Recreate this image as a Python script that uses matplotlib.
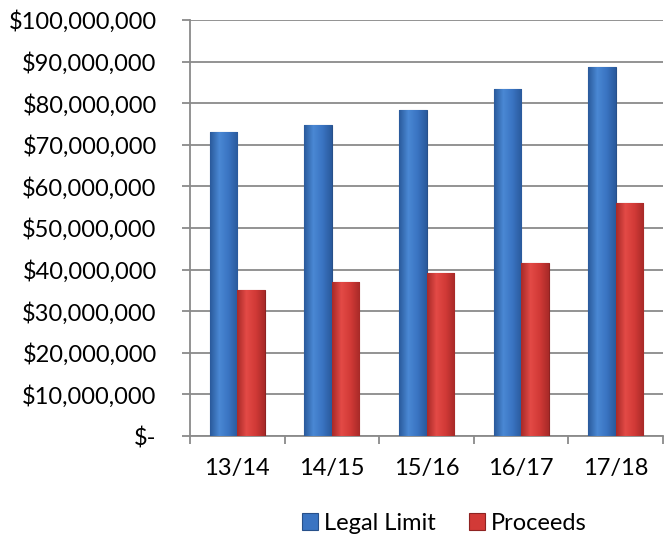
import numpy as np
import matplotlib.pyplot as plt
from matplotlib.ticker import FuncFormatter
from matplotlib.colors import LinearSegmentedColormap

plt.rcParams['font.family'] = ['Lato', 'DejaVu Sans']

# Data
seasons = ['13/14', '14/15', '15/16', '16/17', '17/18']
legal_limit = [73_100_000, 74_800_000, 78_400_000, 83_400_000, 88_700_000]
proceeds = [35_100_000, 37_000_000, 39_300_000, 41_500_000, 56_100_000]

fig = plt.figure(figsize=(6.66, 5.37), dpi=100)
ax = fig.add_axes([0.2853, 0.188, 0.7102, 0.7748])

x = np.arange(len(seasons))
w = 0.29
blue_bars = ax.bar(x - w / 2, legal_limit, w, color='#3a74c2', edgecolor='#27508a',
                   linewidth=0.8, label='Legal Limit', zorder=3)
red_bars = ax.bar(x + w / 2, proceeds, w, color='#d23a37', edgecolor='#8e2322',
                  linewidth=0.8, label='Proceeds', zorder=3)

# cylinder-like shading on each bar
blue_cm = LinearSegmentedColormap.from_list('b', ['#2a5a9c', '#4a88d4', '#3a74c2', '#2a5a9c'])
red_cm = LinearSegmentedColormap.from_list('r', ['#a82a28', '#e34a46', '#d23a37', '#a82a28'])
grad = np.linspace(0, 1, 64).reshape(1, -1)
for bars, cm in [(blue_bars, blue_cm), (red_bars, red_cm)]:
    for b in bars:
        im = ax.imshow(grad, cmap=cm, aspect='auto', zorder=3.5,
                       extent=[b.get_x(), b.get_x() + b.get_width(), 0, b.get_height()])
        im.set_clip_path(b)

def money(v, pos):
    if v == 0:
        return '$-'
    return '${:,.0f}'.format(v)

ax.set_ylim(0, 100_000_000)
ax.set_yticks(np.arange(0, 100_000_001, 10_000_000))
ax.yaxis.set_major_formatter(FuncFormatter(money))
ax.set_xlim(-0.5, len(seasons) - 0.5)
ax.set_xticks(x)
ax.set_xticklabels(seasons)
ax.set_xticks(np.arange(-0.5, len(seasons)), minor=True)

ax.grid(axis='y', color='#8a8a8a', linewidth=1.3, zorder=0)
for s in ['top', 'right']:
    ax.spines[s].set_visible(False)
for s in ['left', 'bottom']:
    ax.spines[s].set_color('#8a8a8a')
    ax.spines[s].set_linewidth(1.3)

ax.tick_params(axis='y', length=6, width=1.3, color='#8a8a8a', labelsize=17,
               pad=18, labelcolor='black')
ax.tick_params(axis='x', which='major', length=0, labelsize=17, pad=16)
ax.tick_params(axis='x', which='minor', length=6, width=1.3, color='#8a8a8a')

fig.legend(loc='center', bbox_to_anchor=(0.667, 0.026), ncol=2, frameon=False,
           fontsize=17, handlelength=0.7, handleheight=0.7,
           handletextpad=0.25, columnspacing=1.4)

fig.savefig('out.png', dpi=100)
